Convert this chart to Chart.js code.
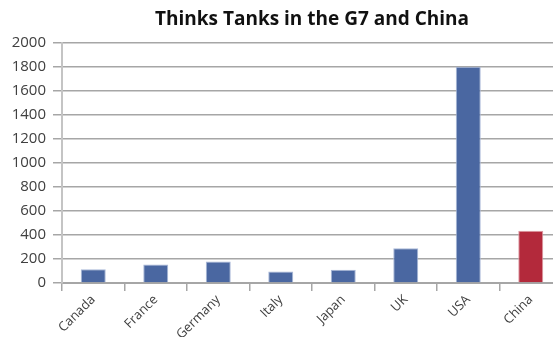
<!DOCTYPE html>
<html>
<head>
<meta charset="utf-8">
<script src="https://cdn.jsdelivr.net/npm/chart.js@4/dist/chart.umd.min.js"></script>
<style>
  html, body { margin: 0; padding: 0; background: #fff; overflow: hidden; }
  #wrap { width: 562px; height: 337px; }
</style>
</head>
<body>
<div id="wrap"><canvas id="tanks"></canvas></div>
<script>
// think tanks per country
const countries = ["Canada", "France", "Germany", "Italy", "Japan", "UK", "USA", "China"];
const tankCounts = [115, 155, 180, 95, 110, 290, 1800, 435];
const yTicks = [0, 200, 400, 600, 800, 1000, 1200, 1400, 1600, 1800, 2000];

const BLUE = "#4a67a1";
const RED = "#b3293b";
const fills = countries.map(c => c === "China" ? RED : BLUE);
const edges = countries.map(c => c === "China" ? "#dd9aa3" : "#a9b8d8");

const FAMILY = "'Open Sans', 'Noto Sans', sans-serif";

new Chart(document.getElementById("tanks"), {
  type: "bar",
  data: {
    labels: countries,
    datasets: [{
      data: tankCounts,
      backgroundColor: fills,
      borderColor: edges,
      borderWidth: 1,
      categoryPercentage: 0.8,
      barPercentage: 0.5
    }]
  },
  options: {
    responsive: true,
    maintainAspectRatio: false,
    animation: false,
    layout: { padding: 0 },
    plugins: {
      legend: { display: false },
      tooltip: { enabled: false },
      title: {
        display: true,
        fullSize: false, // center over the plot, not the canvas
        text: "Thinks Tanks in the G7 and China",
        color: "#111",
        font: { family: FAMILY, size: 19, weight: "bold" },
        padding: { top: 8, bottom: 12 }
      }
    },
    scales: {
      x: {
        grid: {
          drawOnChartArea: false,
          drawTicks: true,
          tickLength: 8,
          color: "#a6a6a6",
          lineWidth: 1.5
        },
        border: { color: "#a6a6a6", width: 2 },
        ticks: {
          color: "#404040",
          font: { family: FAMILY, size: 13 },
          minRotation: 45,
          maxRotation: 45,
          padding: 1
        },
        afterFit: s => { s.height = 54; }
      },
      y: {
        min: 0,
        max: 2000,
        afterBuildTicks: s => { s.ticks = yTicks.map(v => ({ value: v })); },
        grid: {
          color: "#a6a6a6",
          lineWidth: 1.5,
          tickLength: 9
        },
        border: { color: "#c4c4c4", width: 2 },
        ticks: {
          color: "#404040",
          font: { family: FAMILY, size: 15 },
          padding: 7,
          callback: v => String(v)
        },
        afterFit: s => { s.width = 62; }
      }
    }
  }
});
</script>
</body>
</html>
